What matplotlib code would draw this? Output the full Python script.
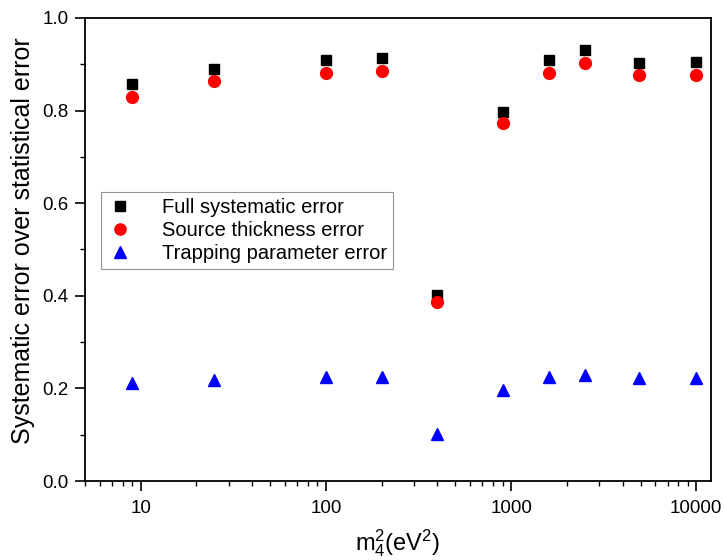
import matplotlib
matplotlib.use('Agg')
import matplotlib.pyplot as plt
from matplotlib.ticker import FixedLocator, NullFormatter, MultipleLocator

plt.rcParams['font.family'] = ['Liberation Sans', 'DejaVu Sans']
plt.rcParams['mathtext.fontset'] = 'custom'
plt.rcParams['mathtext.rm'] = 'Liberation Sans'
plt.rcParams['mathtext.it'] = 'Liberation Sans'

# sterile mass squared (eV^2)
m4_sq = [9, 25, 100, 200, 400, 900, 1600, 2500, 4900, 10000]
full_sys = [0.857, 0.890, 0.910, 0.914, 0.401, 0.797, 0.909, 0.930, 0.903, 0.904]
source_thick = [0.830, 0.863, 0.882, 0.886, 0.386, 0.773, 0.881, 0.902, 0.876, 0.877]
trapping = [0.211, 0.218, 0.224, 0.224, 0.101, 0.196, 0.224, 0.228, 0.222, 0.223]

fig = plt.figure(figsize=(7.24, 5.6), dpi=100)
ax = fig.add_axes([0.1174, 0.141, 0.8646, 0.827])

ax.plot(m4_sq, full_sys, 's', color='black', markersize=7.5, label='Full systematic error')
ax.plot(m4_sq, source_thick, 'o', color='red', markersize=8.5, label='Source thickness error')
ax.plot(m4_sq, trapping, '^', color='blue', markersize=9, label='Trapping parameter error')

ax.set_xscale('log')
ax.set_xlim(5, 12000)
ax.set_ylim(0, 1.0)

ax.set_xticks([10, 100, 1000, 10000])
ax.set_xticklabels(['10', '100', '1000', '10000'])
minors = [m * 10 ** e for e in range(0, 5) for m in range(2, 10)]
minors = [v for v in minors if 5 <= v <= 12000]
ax.xaxis.set_minor_locator(FixedLocator(minors))
ax.xaxis.set_minor_formatter(NullFormatter())

ax.yaxis.set_major_locator(MultipleLocator(0.2))
ax.yaxis.set_minor_locator(MultipleLocator(0.1))
ax.set_yticklabels(['%.1f' % v for v in ax.get_yticks()])

ax.tick_params(which='major', direction='out', length=7, width=1.2, labelsize=13.5,
               top=False, right=False)
ax.tick_params(axis='x', which='major', pad=7)
ax.tick_params(axis='y', which='major', pad=5)
ax.tick_params(which='minor', direction='out', length=3.5, width=1.0, top=False, right=False)
for s in ax.spines.values():
    s.set_linewidth(1.3)

ax.set_xlabel(r'm$_4^2$(eV$^2$)', fontsize=17)
ax.xaxis.set_label_coords(0.5, -0.10)
ax.set_ylabel('Systematic error over statistical error', fontsize=18)
ax.yaxis.set_label_coords(-0.080, 0.52)

leg = ax.legend(loc='upper left', bbox_to_anchor=(0.026, 0.625), fontsize=14.5,
                frameon=True, fancybox=False, edgecolor='#777777', numpoints=1,
                handlelength=1.3, handletextpad=1.4, borderpad=0.3, labelspacing=0.2,
                borderaxespad=0, markerscale=0.95)
leg.get_frame().set_linewidth(0.8)

fig.savefig('out.png', dpi=100)
